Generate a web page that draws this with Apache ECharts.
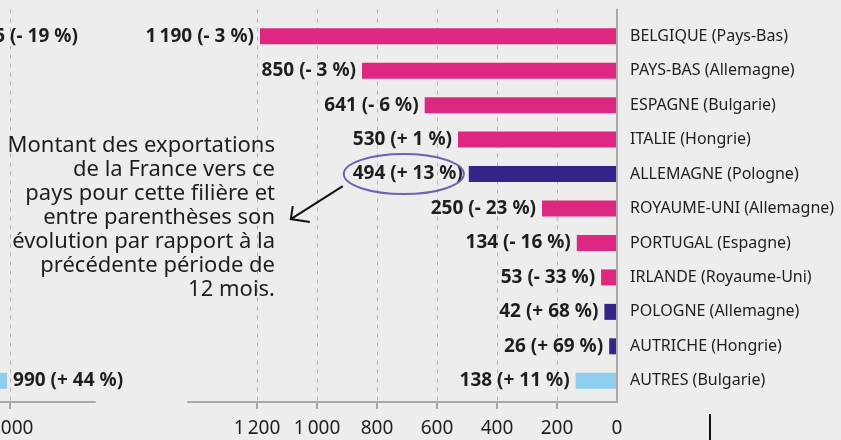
<!DOCTYPE html>
<html>
<head>
<meta charset="utf-8">
<script src="https://cdn.jsdelivr.net/npm/echarts@6/dist/echarts.min.js"></script>
<style>
  html, body { margin: 0; padding: 0; background: #ecedec; }
  #chart { width: 841px; height: 440px; }
</style>
</head>
<body>
<div id="chart"></div>
<script>
// pays de destination (et principal concurrent entre parenthèses)
const pays = [
  'BELGIQUE (Pays-Bas)', 'PAYS-BAS (Allemagne)', 'ESPAGNE (Bulgarie)', 'ITALIE (Hongrie)',
  'ALLEMAGNE (Pologne)', 'ROYAUME-UNI (Allemagne)', 'PORTUGAL (Espagne)', 'IRLANDE (Royaume-Uni)',
  'POLOGNE (Allemagne)', 'AUTRICHE (Hongrie)', 'AUTRES (Bulgarie)'
];
const montants = [1190, 850, 641, 530, 494, 250, 134, 53, 42, 26, 138];
const evolutions = ['- 3 %', '- 3 %', '- 6 %', '+ 1 %', '+ 13 %', '- 23 %', '- 16 %', '- 33 %', '+ 68 %', '+ 69 %', '+ 11 %'];
const groupes = ['rose', 'rose', 'rose', 'rose', 'bleu', 'rose', 'rose', 'rose', 'bleu', 'bleu', 'autres'];
const graduations = [0, 200, 400, 600, 800, 1000, 1200];

// panneau de gauche (coupé dans l'image) : seules deux valeurs sont visibles
const montantsGauche = [855, null, null, null, null, null, null, null, null, null, 990];
const evolutionsGauche = ['- 19 %', '', '', '', '', '', '', '', '', '', '+ 44 %'];
const graduationsGauche = [0, 500, 1000];

const couleurs = { rose: '#de2781', bleu: '#33248a', autres: '#8ecdee' };
const police = "'Noto Sans', sans-serif";
const gris = '#a8a8a8';
const texte = '#1e1e1e';

function fmt(v) {
  if (v >= 1000) {
    const reste = String(v % 1000).padStart(3, '0');
    return Math.floor(v / 1000) + '\u2009' + reste;
  }
  return String(v);
}

const chart = echarts.init(document.getElementById('chart'));

const axeValeurs = (max, ticks, gridIndex, inverse) => ({
  type: 'value', gridIndex: gridIndex, min: 0, max: max, inverse: inverse,
  axisLine: { show: true, onZero: false, lineStyle: { color: gris, width: 2 } },
  axisTick: { show: true, customValues: ticks.filter(v => v > 0), length: 7, lineStyle: { color: gris, width: 2 } },
  axisLabel: { customValues: ticks, formatter: v => fmt(v), color: texte, fontSize: 19, fontFamily: police, margin: 17 },
  splitLine: { show: true, lineStyle: { color: '#b4b4b4', width: 1, type: [4, 5] } }
});

const option = {
  backgroundColor: '#ecedec',
  animation: false,
  grid: [
    { left: 188, right: 224, top: 19, height: 379, outerBoundsMode: 'none' },
    { left: 188, right: 224, top: 9.5, bottom: 38, outerBoundsMode: 'none' },
    { left: -290, right: 746, top: 19, height: 379, outerBoundsMode: 'none' },
    { left: -290, right: 746, top: 9.5, bottom: 38, outerBoundsMode: 'none' }
  ],
  xAxis: [
    { type: 'value', gridIndex: 0, min: 0, max: 1430, inverse: true, show: false },
    axeValeurs(1430, graduations, 1, true),
    { type: 'value', gridIndex: 2, min: 0, max: 1283, show: false },
    axeValeurs(1283, graduationsGauche, 3, false)
  ],
  yAxis: [
    {
      type: 'category', gridIndex: 0, data: pays, inverse: true, position: 'right',
      axisLine: { show: false }, axisTick: { show: false },
      axisLabel: { margin: 13, color: texte, fontSize: 16, fontFamily: police }
    },
    {
      type: 'value', gridIndex: 1, min: 0, max: 1, position: 'right', z: 5,
      axisLine: { show: true, lineStyle: { color: gris, width: 2 } },
      axisTick: { show: false }, axisLabel: { show: false }, splitLine: { show: false }
    },
    { type: 'category', gridIndex: 2, data: pays, inverse: true, show: false },
    { type: 'value', gridIndex: 3, min: 0, max: 1, show: false }
  ],
  series: [
    {
      type: 'bar', xAxisIndex: 0, yAxisIndex: 0, barWidth: 16,
      data: montants.map((v, i) => ({ value: v, itemStyle: { color: couleurs[groupes[i]] } })),
      label: {
        show: true, position: 'left', distance: 6,
        formatter: p => fmt(montants[p.dataIndex]) + ' (' + evolutions[p.dataIndex] + ')',
        color: texte, fontSize: 19, fontWeight: 'bold', fontFamily: police
      }
    },
    {
      type: 'bar', xAxisIndex: 2, yAxisIndex: 2, barWidth: 16,
      data: montantsGauche.map((v, i) => ({ value: v, itemStyle: { color: i === 10 ? couleurs.autres : couleurs.rose } })),
      label: {
        show: true, position: 'right', distance: 6,
        formatter: p => fmt(montantsGauche[p.dataIndex]) + ' (' + evolutionsGauche[p.dataIndex] + ')',
        color: texte, fontSize: 19, fontWeight: 'bold', fontFamily: police
      }
    }
  ]
};
chart.setOption(option);

// annotation : ellipse autour de l'étiquette ALLEMAGNE + flèche vers le texte explicatif
const pt = chart.convertToPixel({ gridIndex: 0 }, [montants[4], 4]);
const cx = pt[0] - 65, cy = pt[1];
chart.setOption({
  graphic: [
    {
      type: 'ellipse', shape: { cx: cx, cy: cy, rx: 60, ry: 20 },
      style: { fill: 'none', stroke: '#6b62b4', lineWidth: 2 }, z: 10
    },
    {
      type: 'polyline', shape: { points: [[cx - 61, cy + 12], [cx - 113, cy + 45]] },
      style: { stroke: '#111', lineWidth: 2, fill: 'none' }, z: 10
    },
    {
      type: 'polyline', shape: { points: [[cx - 111, cy + 32], [cx - 113, cy + 45], [cx - 94, cy + 48]] },
      style: { stroke: '#111', lineWidth: 2, fill: 'none' }, z: 10
    },
    {
      type: 'text', x: 275, y: 134, z: 10,
      style: {
        text: 'Montant des exportations\nde la France vers ce\npays pour cette filière et\nentre parenthèses son\névolution par rapport à la\nprécédente période de\n12 mois.',
        align: 'right', verticalAlign: 'top', lineHeight: 24,
        fontSize: 22, fontFamily: police, fill: texte
      }
    },
    {
      type: 'line', shape: { x1: 710, y1: 414, x2: 710, y2: 440 },
      style: { stroke: '#111', lineWidth: 2 }
    }
  ]
});
</script>
</body>
</html>
